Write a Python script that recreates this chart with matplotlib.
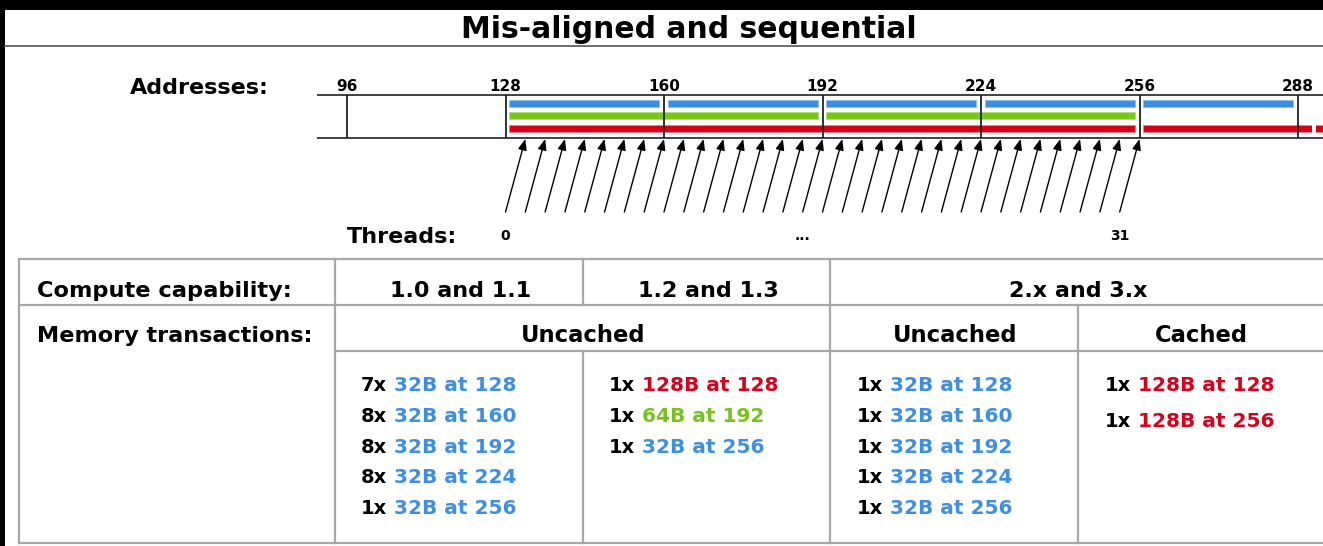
import matplotlib
matplotlib.use("Agg")
import matplotlib.pyplot as plt
from matplotlib.patches import Rectangle

# ---------------- data ----------------
title = "Mis-aligned and sequential"
address_ticks = [96, 128, 160, 192, 224, 256, 288]
seg32_starts = [128, 160, 192, 224, 256]     # blue 32B segments
seg64_starts = [128, 192]                    # green 64B segments
seg128_starts = [128, 256]                   # red 128B segments
n_threads = 32
first_access = 132                           # thread 0 reads address 132
word_bytes = 4
thread_labels = {0: "0", 15: "...", 31: "31"}

cc_labels = ["1.0 and 1.1", "1.2 and 1.3", "2.x and 3.x"]
mode_labels = ["Uncached", "Uncached", "Cached"]
col_cc10 = [(7, 32, 128), (8, 32, 160), (8, 32, 192), (8, 32, 224), (1, 32, 256)]
col_cc12 = [(1, 128, 128), (1, 64, 192), (1, 32, 256)]
col_cc2_uncached = [(1, 32, 128), (1, 32, 160), (1, 32, 192), (1, 32, 224), (1, 32, 256)]
col_cc2_cached = [(1, 128, 128), (1, 128, 256)]

# ---------------- style ----------------
BLUE = "#3a8ee0"
GREEN = "#78c81c"
RED = "#d40016"
TXT_BLUE = "#3d8fdf"
TXT_GREEN = "#74c41a"
TXT_RED = "#d6001c"
size_text_colors = {32: TXT_BLUE, 64: TXT_GREEN, 128: TXT_RED}
GRID = "#a8a8a8"
plt.rcParams["font.family"] = ["DejaVu Sans"]

W, H = 1323, 546
fig = plt.figure(figsize=(W / 100, H / 100), dpi=100)
ax = fig.add_axes([0, 0, 1, 1])
ax.set_xlim(0, W)
ax.set_ylim(H, 0)
ax.axis("off")

# black frame bits
ax.add_patch(Rectangle((0, 0), W, 10, color="black", lw=0))
ax.add_patch(Rectangle((0, 0), 5, H, color="black", lw=0))

# title
ax.text(689, 38, title, ha="center", va="baseline", fontsize=21.5, fontweight="bold")
ax.plot([5, W], [46, 46], color="#555555", lw=1.2)

# ---------------- address strip ----------------
px_per_byte = (1298 - 347) / (288 - 96)
x_left_px = 317
addr_lo = 96 - (347 - x_left_px) / px_per_byte
addr_hi = 96 + (W - 347) / px_per_byte
y_top_px, y_bot_px = 60, 230
axA = fig.add_axes([x_left_px / W, 1 - y_bot_px / H, (W - x_left_px) / W, (y_bot_px - y_top_px) / H])
axA.set_xlim(addr_lo, addr_hi)
axA.set_ylim(y_bot_px, y_top_px)
axA.axis("off")

strip_top, strip_bot = 95, 138
axA.axhline(strip_top, color="#333333", lw=1.3)
axA.axhline(strip_bot, color="#333333", lw=1.3)
axA.vlines(address_ticks, strip_top, strip_bot, color="#222222", lw=1.3)
for a in address_ticks:
    axA.text(a, 91, str(a), ha="center", va="baseline", fontsize=11, fontweight="bold")

pad_l, pad_r = 0.8, 1.0
def draw_segments(starts, size, y, color, edge):
    for s in starts:
        axA.barh(y, size - pad_l - pad_r, left=s + pad_l, height=7, color=color,
                 edgecolor=edge, linewidth=0.6)

draw_segments(seg32_starts, 32, 103.5, BLUE, "#8cc0ee")
draw_segments(seg64_starts, 64, 115.5, GREEN, "#b0e070")
draw_segments(seg128_starts, 128, 128, RED, "#ee8090")
# break in the clipped red segment at the right edge
axA.add_patch(Rectangle((290.9, 123), 0.8, 10, color="white", lw=0))

# arrows: thread i -> address first_access + 4*i
for i in range(n_threads):
    tip = first_access + word_bytes * i
    axA.annotate("", xy=(tip, strip_bot + 1), xytext=(tip - word_bytes, 212),
                 arrowprops=dict(arrowstyle="-|>,head_length=0.5,head_width=0.2",
                                 color="black", lw=1.0,
                                 mutation_scale=13, shrinkA=0, shrinkB=0))
for i, lab in thread_labels.items():
    axA.text(first_access - word_bytes + word_bytes * i, 240, lab, ha="center",
             va="baseline", fontsize=10, fontweight="bold")

ax.text(130, 94, "Addresses:", ha="left", va="baseline", fontsize=16, fontweight="bold")
ax.text(347, 243, "Threads:", ha="left", va="baseline", fontsize=16, fontweight="bold")

# ---------------- table ----------------
L, C1, C2, C3, C4, R = 19, 335, 583, 830, 1078, W
T, R1, R2, B = 259, 305, 351, 543
lines = [
    ([L, R], [T, T]), ([L, R], [R1, R1]), ([C1, R], [R2, R2]), ([L, R], [B, B]),
    ([L, L], [T, B]), ([C1, C1], [T, B]), ([C2, C2], [T, R1]), ([C2, C2], [R2, B]),
    ([C3, C3], [T, B]), ([C4, C4], [R1, B]),
]
for xs, ys in lines:
    ax.plot(xs, ys, color=GRID, lw=1.6, solid_capstyle="projecting")

ax.text(37, 297, "Compute capability:", ha="left", va="baseline", fontsize=16.2, fontweight="bold")
ax.text(37, 342, "Memory transactions:", ha="left", va="baseline", fontsize=16.1, fontweight="bold")

cc_centers = [(C1 + C2) / 2, (C2 + C3) / 2, (C3 + R) / 2]
for cx, lab in zip(cc_centers, cc_labels):
    ax.text(cx + 2, 297, lab, ha="center", va="baseline", fontsize=16, fontweight="bold")
mode_centers = [(C1 + C3) / 2, (C3 + C4) / 2, (C4 + R) / 2]
for cx, lab in zip(mode_centers, mode_labels):
    ax.text(cx + 1, 342, lab, ha="center", va="baseline", fontsize=16.3, fontweight="bold")

def draw_column(x, y0, dy, rows):
    for k, (cnt, size, addr) in enumerate(rows):
        t = ax.text(x, y0 + k * dy, f"{cnt}x", ha="left", va="bottom",
                    fontsize=14, fontweight="bold", color="black")
        ax.annotate(f"{size}B at {addr}", xy=(1, 0), xycoords=t, xytext=(5, 0),
                    textcoords="offset points", ha="left", va="bottom",
                    fontsize=14.5, fontweight="bold", color=size_text_colors[size])

draw_column(361, 395, 30.8, col_cc10)
draw_column(609, 395, 30.8, col_cc12)
draw_column(857, 395, 30.8, col_cc2_uncached)
draw_column(1105, 395, 35.7, col_cc2_cached)

fig.savefig("out.png", dpi=100, facecolor="white")
